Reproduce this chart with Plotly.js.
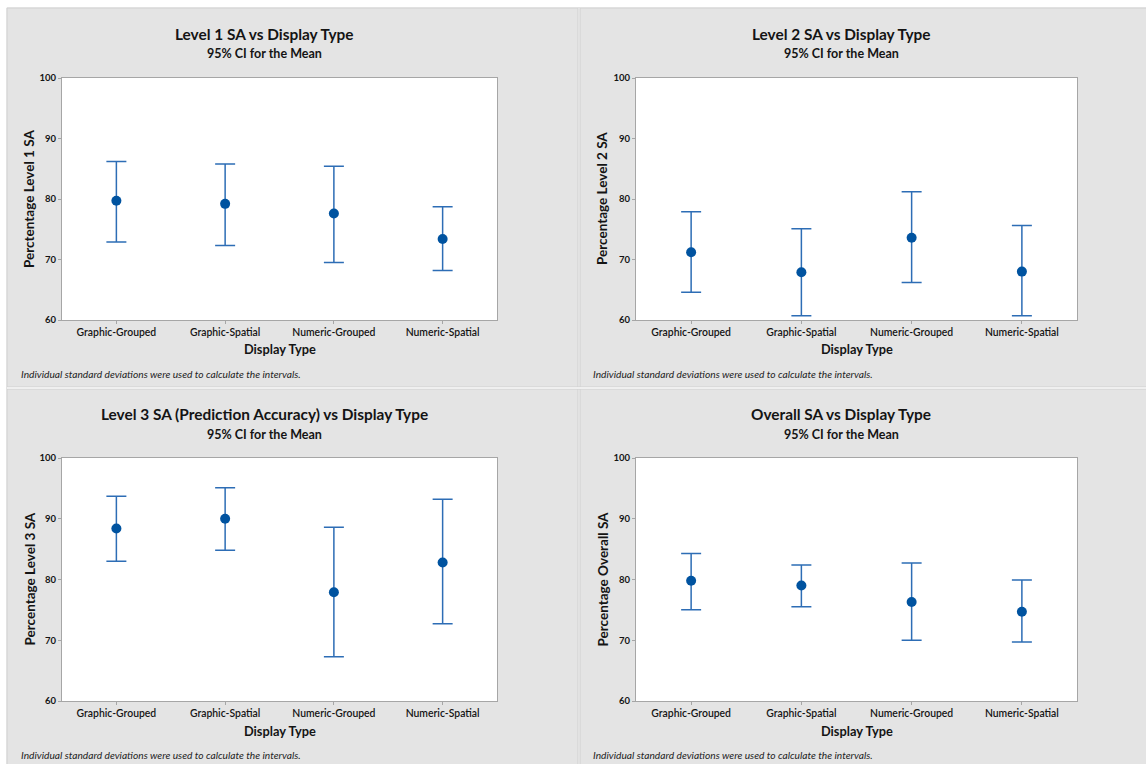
<!DOCTYPE html>
<html>
<head>
<meta charset="utf-8">
<script src="https://cdn.plot.ly/plotly-3.0.1.min.js"></script>
<style>html,body{margin:0;padding:0;background:#fff;}#chart{width:1146px;height:764px;}</style>
</head>
<body>
<div id="chart"></div>
<script>
// ---- Data ----
const categories = ['Graphic-Grouped', 'Graphic-Spatial', 'Numeric-Grouped', 'Numeric-Spatial'];
const yTicks = [60, 70, 80, 90, 100];

const level1Mean  = [79.7, 79.2, 77.6, 73.4];
const level1Upper = [86.2, 85.8, 85.4, 78.7];
const level1Lower = [72.9, 72.3, 69.5, 68.2];

const level2Mean  = [71.2, 67.9, 73.6, 68.0];
const level2Upper = [77.9, 75.1, 81.2, 75.6];
const level2Lower = [64.6, 60.7, 66.2, 60.7];

const level3Mean  = [88.4, 90.0, 77.9, 82.8];
const level3Upper = [93.7, 95.1, 88.6, 93.2];
const level3Lower = [83.0, 84.8, 67.3, 72.7];

const overallMean  = [79.8, 79.0, 76.3, 74.7];
const overallUpper = [84.3, 82.4, 82.7, 79.9];
const overallLower = [75.0, 75.5, 70.0, 69.7];

const panelTitles = ['Level 1 SA vs Display Type', 'Level 2 SA vs Display Type',
                     'Level 3 SA (Prediction Accuracy) vs Display Type', 'Overall SA vs Display Type'];
const subTitle = '95% CI for the Mean';
const yTitles = ['Perctentage Level 1 SA', 'Percentage Level 2 SA', 'Percentage Level 3 SA', 'Percentage Overall SA'];
const xTitle = 'Display Type';
const footNote = 'Individual standard deviations were used to calculate the intervals.';

// ---- Layout helpers ----
const W = 1146, H = 764;
const px = v => v / W;
const py = v => 1 - v / H;
const FONT = 'Lato, "Open Sans", sans-serif';
const DARK = '#141414';
const BAR = '#2d6db5';
const DOT = '#0053a0';
const PANEL = '#e4e4e4';

const series = [
  [level1Mean, level1Upper, level1Lower],
  [level2Mean, level2Upper, level2Lower],
  [level3Mean, level3Upper, level3Lower],
  [overallMean, overallUpper, overallLower]
];

// panel geometry in pixels
const panels = [
  {px0: 62,  px1: 497,  py0: 78,  py1: 320, tx: 264, ty: 34, sy: 53, xty: 349, yx: 29,  fx: 19,  fy: 374},
  {px0: 636, px1: 1077, py0: 78,  py1: 320, tx: 841, ty: 34, sy: 53, xty: 349, yx: 602, fx: 591, fy: 374},
  {px0: 62,  px1: 497,  py0: 458, py1: 701, tx: 264, ty: 414, sy: 434, xty: 731, yx: 29,  fx: 19,  fy: 755},
  {px0: 636, px1: 1077, py0: 458, py1: 701, tx: 841, ty: 414, sy: 434, xty: 731, yx: 602, fx: 591, fy: 755}
];

const traces = [];
const layout = {
  width: W, height: H,
  margin: {l: 0, r: 0, t: 0, b: 0},
  paper_bgcolor: PANEL,
  plot_bgcolor: '#ffffff',
  showlegend: false,
  font: {family: FONT, color: DARK},
  shapes: [
    // white outer strips (top and left) and panel separators
    {type: 'rect', xref: 'paper', yref: 'paper', x0: 0, x1: 1, y0: py(7.5), y1: 1, fillcolor: '#ffffff', line: {width: 0}},
    {type: 'rect', xref: 'paper', yref: 'paper', x0: 0, x1: px(6.5), y0: 0, y1: 1, fillcolor: '#ffffff', line: {width: 0}},
    {type: 'line', xref: 'paper', yref: 'paper', x0: px(7), x1: 1, y0: py(8), y1: py(8), line: {color: '#d0d0d0', width: 1}},
    {type: 'line', xref: 'paper', yref: 'paper', x0: px(7), x1: px(7), y0: 0, y1: py(8), line: {color: '#d0d0d0', width: 1}},
    {type: 'rect', xref: 'paper', yref: 'paper', x0: px(577.5), x1: px(580.5), y0: 0, y1: py(8), fillcolor: '#cfcfcf', line: {width: 0}},
    {type: 'line', xref: 'paper', yref: 'paper', x0: px(579), x1: px(579), y0: 0, y1: py(8), line: {color: '#f4f4f4', width: 1}},
    {type: 'rect', xref: 'paper', yref: 'paper', x0: px(7), x1: 1, y0: py(389.5), y1: py(386.5), fillcolor: '#cfcfcf', line: {width: 0}},
    {type: 'line', xref: 'paper', yref: 'paper', x0: px(7), x1: 1, y0: py(388), y1: py(388), line: {color: '#fafafa', width: 1.5}}
  ],
  annotations: []
};

panels.forEach((p, i) => {
  const n = i === 0 ? '' : String(i + 1);
  const [m, up, lo] = series[i];
  traces.push({
    type: 'scatter', mode: 'markers',
    x: categories, y: m,
    xaxis: 'x' + n, yaxis: 'y' + n,
    marker: {color: DOT, size: 10},
    error_y: {
      type: 'data', symmetric: false,
      array: up.map((u, k) => u - m[k]),
      arrayminus: lo.map((l, k) => m[k] - l),
      color: BAR, thickness: 1.5, width: 10
    },
    hoverinfo: 'x+y'
  });
  layout['xaxis' + n] = {
    domain: [px(p.px0), px(p.px1)],
    anchor: 'y' + n,
    type: 'category',
    range: [-0.5, 3.5],
    showline: true, mirror: true, linecolor: '#a6a6a6', linewidth: 1,
    ticks: 'outside', ticklen: 3, tickcolor: '#a6a6a6',
    showgrid: false, zeroline: false,
    tickfont: {family: FONT, size: 10.4, color: DARK, weight: 600},
    fixedrange: true
  };
  layout['yaxis' + n] = {
    domain: [py(p.py1), py(p.py0)],
    anchor: 'x' + n,
    range: [60, 100],
    tickvals: yTicks,
    showline: true, mirror: true, linecolor: '#a6a6a6', linewidth: 1,
    ticks: 'outside', ticklen: 3, tickcolor: '#a6a6a6',
    showgrid: false, zeroline: false,
    tickfont: {family: FONT, size: 9.5, color: DARK, weight: 700},
    fixedrange: true
  };
  layout.annotations.push(
    {text: panelTitles[i], xref: 'paper', yref: 'paper', x: px(p.tx), y: py(p.ty),
     xanchor: 'center', yanchor: 'middle', showarrow: false,
     font: {family: FONT, size: 15.4, color: DARK, weight: 700}},
    {text: subTitle, xref: 'paper', yref: 'paper', x: px(p.tx), y: py(p.sy),
     xanchor: 'center', yanchor: 'middle', showarrow: false,
     font: {family: FONT, size: 12.5, color: DARK, weight: 700}},
    {text: xTitle, xref: 'paper', yref: 'paper', x: px((p.px0 + p.px1) / 2), y: py(p.xty),
     xanchor: 'center', yanchor: 'middle', showarrow: false,
     font: {family: FONT, size: 12.8, color: DARK, weight: 700}},
    {text: yTitles[i], xref: 'paper', yref: 'paper', x: px(p.yx), y: py((p.py0 + p.py1) / 2),
     xanchor: 'center', yanchor: 'middle', showarrow: false, textangle: -90,
     font: {family: FONT, size: 13.5, color: DARK, weight: 700}},
    {text: '<i>' + footNote + '</i>', xref: 'paper', yref: 'paper', x: px(p.fx), y: py(p.fy),
     xanchor: 'left', yanchor: 'middle', showarrow: false,
     font: {family: FONT, size: 10.2, color: '#222222'}}
  );
});

Plotly.newPlot('chart', traces, layout, {displayModeBar: false});
</script>
</body>
</html>
